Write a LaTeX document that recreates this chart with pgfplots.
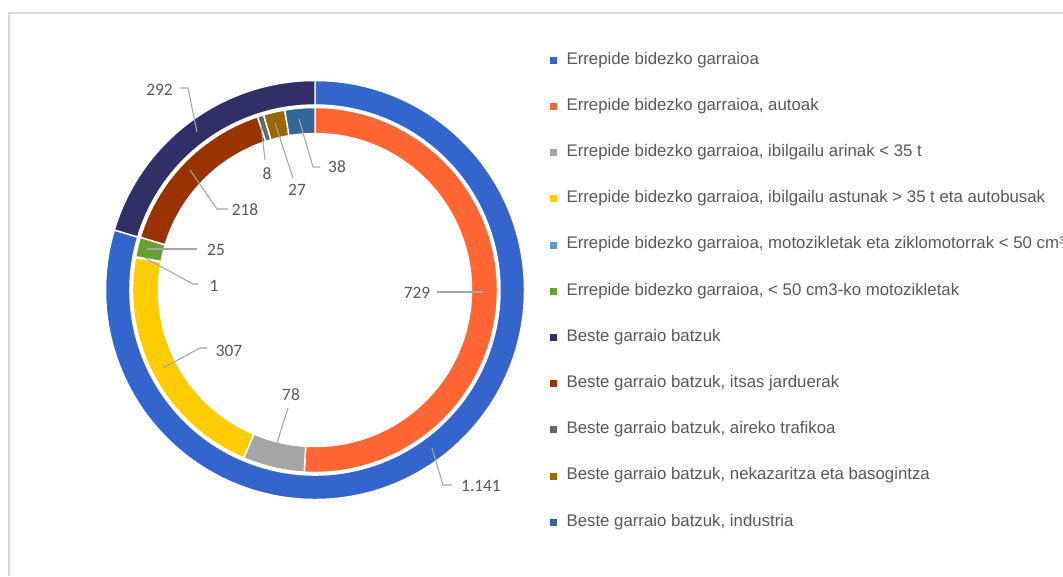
\documentclass[border=0pt]{standalone}
\usepackage{pgfplots}
\pgfplotsset{compat=1.18}
\usepackage{pgfplotstable}
\usepackage{fontspec}
\setmainfont{Liberation Sans}
\newfontfamily\labelfont{Carlito}

\definecolor{cA}{RGB}{52,101,204}
\definecolor{cB}{RGB}{255,102,51}
\definecolor{cC}{RGB}{165,165,165}
\definecolor{cD}{RGB}{255,204,0}
\definecolor{cE}{RGB}{95,152,206}
\definecolor{cF}{RGB}{102,160,50}
\definecolor{cG}{RGB}{48,48,102}
\definecolor{cH}{RGB}{153,51,0}
\definecolor{cI}{RGB}{102,102,102}
\definecolor{cJ}{RGB}{153,102,0}
\definecolor{cK}{RGB}{51,102,153}
\definecolor{cText}{RGB}{89,89,89}
\definecolor{cLine}{RGB}{166,166,166}
\definecolor{cBorder}{RGB}{217,217,217}

% outer ring
\pgfplotstableread{
value col
1141 cA
292 cG
}\outerdata
% inner ring
\pgfplotstableread{
value col
729 cB
78 cC
307 cD
1 cE
25 cF
218 cH
8 cI
27 cJ
38 cK
}\innerdata

% #1 table, #2 total, #3 inner radius, #4 outer radius (axis units)
\newcommand{\drawring}[4]{%
  \pgfplotstablegetrowsof{#1}%
  \pgfmathtruncatemacro\nrows{\pgfplotsretval-1}%
  \gdef\cumsum{0}%
  \pgfplotsforeachungrouped \rowi in {0,...,\nrows}{%
    \pgfplotstablegetelem{\rowi}{value}\of{#1}\let\segval\pgfplotsretval
    \pgfplotstablegetelem{\rowi}{col}\of{#1}\let\segcol\pgfplotsretval
    \pgfmathsetmacro\aone{90-(360/#2)*\cumsum}%
    \pgfmathsetmacro\cumnew{\cumsum+\segval}%
    \pgfmathsetmacro\atwo{90-(360/#2)*\cumnew}%
    \xdef\cumsum{\cumnew}%
    \pgfmathsetmacro\xA{315+#4*cos(\aone)}%
    \pgfmathsetmacro\yA{286+#4*sin(\aone)}%
    \pgfmathsetmacro\xB{315+#3*cos(\atwo)}%
    \pgfmathsetmacro\yB{286+#3*sin(\atwo)}%
    \pgfmathsetmacro\Ro{0.75*#4}%
    \pgfmathsetmacro\Ri{0.75*#3}%
    \edef\temp{\noexpand\fill[fill=\segcol, draw=white, line width=1.1pt, line join=miter]
      (axis cs:\xA,\yA) arc[start angle=\aone, end angle=\atwo, radius=\Ro pt]
      -- (axis cs:\xB,\yB) arc[start angle=\atwo, end angle=\aone, radius=\Ri pt] -- cycle;}%
    \temp
  }%
}

\begin{document}
\begin{tikzpicture}
\useasboundingbox (0,0) rectangle (797.25pt,432pt);
\clip (0,0) rectangle (797.25pt,432pt);
\fill[white] (0,0) rectangle (797.25pt,432pt);
\begin{axis}[
  at={(0,0)}, anchor=south west,
  x=0.75pt, y=0.75pt,
  xmin=0, xmax=1063, ymin=0, ymax=576,
  hide axis, clip=false,
  legend cell align=left,
  legend image code/.code={\fill[#1] (0pt,-2.25pt) rectangle (4.5pt,2.25pt);},
  legend style={at={(axis cs:549.5,524)}, anchor=north west, draw=none, fill=none,
    inner sep=0pt, outer sep=0pt, row sep=22.65pt, column sep=7.9pt,
    font=\fontsize{12.6}{14}\selectfont, text=cText,
    nodes={inner sep=0pt, text height=9pt, text depth=3pt}},
]
\draw[cBorder, line width=1.2pt] (axis cs:9,0) -- (axis cs:9,563) -- (axis cs:1070,563);

\drawring{\outerdata}{1433}{185}{209.5}
\drawring{\innerdata}{1431}{156.5}{182.5}

% leader lines
\draw[cLine, line width=0.8pt] (axis cs:180,488) -- (axis cs:188,488) -- (axis cs:197,444);
\draw[cLine, line width=0.8pt] (axis cs:265,416) -- (axis cs:261,451);
\draw[cLine, line width=0.8pt] (axis cs:293,398) -- (axis cs:275,453);
\draw[cLine, line width=0.8pt] (axis cs:320,409) -- (axis cs:313,409) -- (axis cs:299,457);
\draw[cLine, line width=0.8pt] (axis cs:228,367) -- (axis cs:217,367) -- (axis cs:190,406);
\draw[cLine, line width=0.8pt] (axis cs:197,327) -- (axis cs:147,327);
\draw[cLine, line width=0.8pt] (axis cs:198,292) -- (axis cs:193,292) -- (axis cs:145,318);
\draw[cLine, line width=0.8pt] (axis cs:207,228) -- (axis cs:200,228) -- (axis cs:163,208);
\draw[cLine, line width=0.8pt] (axis cs:288,168) -- (axis cs:277,133);
\draw[cLine, line width=0.8pt] (axis cs:437,284) -- (axis cs:483,284);
\draw[cLine, line width=0.8pt] (axis cs:452,91) -- (axis cs:443,91) -- (axis cs:432,128);

% value labels
\begin{scope}[every node/.style={font=\labelfont\fontsize{13}{15}\selectfont, text=cText, inner sep=0pt}]
\node at (axis cs:159.5,486) {292};
\node at (axis cs:267,402) {8};
\node at (axis cs:297,386) {27};
\node at (axis cs:337,409) {38};
\node at (axis cs:245,366) {218};
\node at (axis cs:216,326) {25};
\node at (axis cs:214,290) {1};
\node at (axis cs:229,225) {307};
\node at (axis cs:291,181) {78};
\node at (axis cs:417,283) {729};
\node at (axis cs:481,90) {1.141};
\end{scope}

\addlegendimage{cA}\addlegendentry{Errepide bidezko garraioa}
\addlegendimage{cB}\addlegendentry{Errepide bidezko garraioa, autoak}
\addlegendimage{cC}\addlegendentry{Errepide bidezko garraioa, ibilgailu arinak < 35 t}
\addlegendimage{cD}\addlegendentry{Errepide bidezko garraioa, ibilgailu astunak > 35 t eta autobusak}
\addlegendimage{cE}\addlegendentry{Errepide bidezko garraioa, motozikletak eta ziklomotorrak < 50 cm³}
\addlegendimage{cF}\addlegendentry{Errepide bidezko garraioa, < 50 cm3-ko motozikletak}
\addlegendimage{cG}\addlegendentry{Beste garraio batzuk}
\addlegendimage{cH}\addlegendentry{Beste garraio batzuk, itsas jarduerak}
\addlegendimage{cI}\addlegendentry{Beste garraio batzuk, aireko trafikoa}
\addlegendimage{cJ}\addlegendentry{Beste garraio batzuk, nekazaritza eta basogintza}
\addlegendimage{cK}\addlegendentry{Beste garraio batzuk, industria}
\end{axis}
\end{tikzpicture}
\end{document}
